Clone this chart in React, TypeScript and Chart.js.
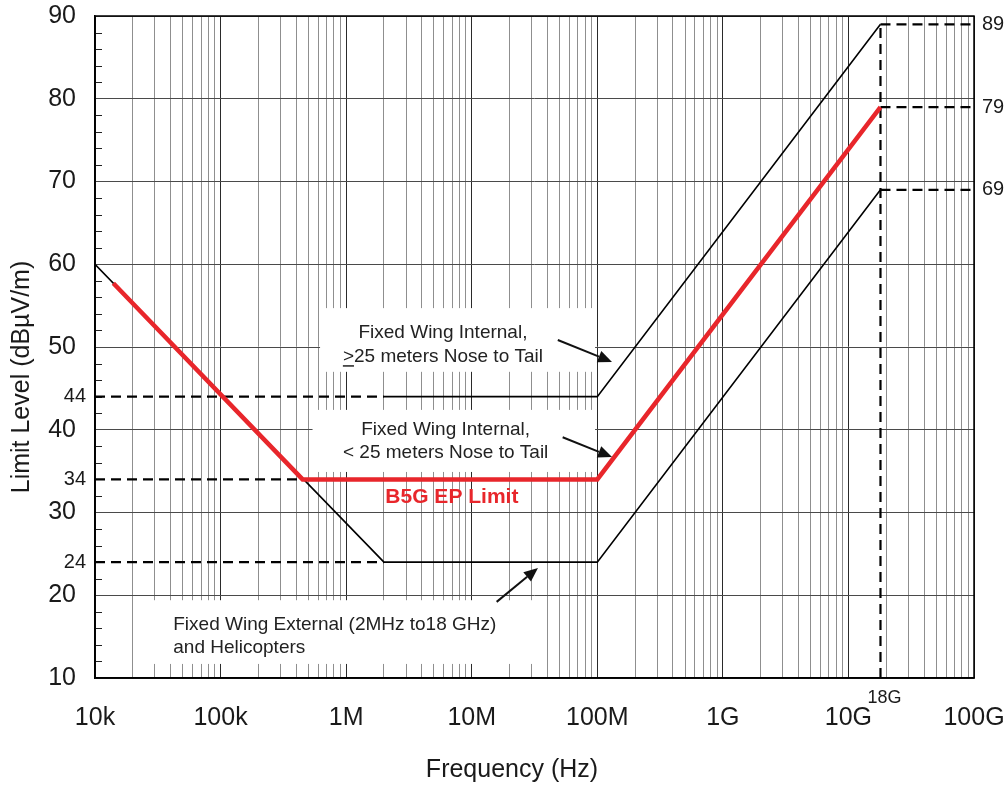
import React, { useEffect, useRef } from 'react';
import { Chart, registerables } from 'chart.js';

Chart.register(...registerables);

// ---- axis ticks ----
const xDecades = [1e4, 1e5, 1e6, 1e7, 1e8, 1e9, 1e10, 1e11];
const xTickLabels = ['10k', '100k', '1M', '10M', '100M', '1G', '10G', '100G'];
const yTickValues = [10, 20, 30, 40, 50, 60, 70, 80, 90];
const yMinorTicks = [12, 14, 16, 18, 22, 24, 26, 28, 32, 34, 36, 38, 42, 44, 46, 48, 52, 54, 56, 58, 62, 64, 66, 68, 72, 74, 76, 78, 82, 84, 86, 88];

// ---- limit curves (Hz, dBµV/m) ----
const lowerFreq = [1e4, 2e6, 1e8, 1.8e10];
const lowerLevel = [60, 24, 24, 69];
const upperFreq = [2e6, 1e8, 1.8e10];
const upperLevel = [44, 44, 89];
const b5gFreq = [1.4e4, 4.5e5, 1e8, 1.8e10];
const b5gLevel = [57.7, 34, 34, 79];

// ---- reference (dashed) lines ----
const leftRefLevels = [44, 34, 24];
const leftRefEndFreq = [2e6, 4.5e5, 2e6];
const rightRefLevels = [89, 79, 69];
const cornerFreq = 1.8e10;
const cornerLabel = '18G';

// ---- annotations (data coordinates) ----
const notes = [
  { lines: ['Fixed Wing Internal,', '>25 meters Nose to Tail'], align: 'center', x: 5.9e6, y: [51.7, 48.8], box: [6.2e5, 9.6e7, 54.7, 47.0], underline: true },
  { lines: ['Fixed Wing Internal,', '< 25 meters Nose to Tail'], align: 'center', x: 6.2e6, y: [40.0, 37.2], box: [5.4e5, 9.6e7, 42.4, 34.9], underline: false },
  { lines: ['Fixed Wing External (2MHz to18 GHz)', 'and Helicopters'], align: 'left', x: 4.2e4, y: [16.4, 13.6], box: [2.3e4, 3.8e7, 19.4, 11.7], underline: false },
];
const arrows = [
  { from: [4.85e7, 50.85], to: [1.31e8, 48.2] },
  { from: [5.3e7, 39.1], to: [1.31e8, 36.7] },
  { from: [1.58e7, 19.2], to: [3.37e7, 23.3] },
];
const b5gLabel = { text: 'B5G EP Limit', x: 6.95e6, y: 31.8 };
const xTitle = 'Frequency (Hz)';
const yTitle = 'Limit Level (dBµV/m)';

const FONT = "'Liberation Sans', Arial, sans-serif";
const RED = '#e8262b';

const pts = (xs: number[], ys: number[]) => xs.map((x, i) => ({ x, y: ys[i] }));

const isDecade = (v: number) => Math.abs(Math.log10(v) - Math.round(Math.log10(v))) < 1e-9;

const overlayPlugin = {
  id: 'overlay',
  beforeDatasetsDraw(chart: any) {
    const { ctx, chartArea: a, scales } = chart;
    const xs = scales.x, ys = scales.y;
    ctx.save();
    ctx.fillStyle = '#ffffff';
    for (const n of notes) {
      const x0 = xs.getPixelForValue(n.box[0]);
      const x1 = xs.getPixelForValue(n.box[1]);
      const y0 = ys.getPixelForValue(n.box[2]);
      const y1 = ys.getPixelForValue(n.box[3]);
      ctx.fillRect(x0, y0, x1 - x0, y1 - y0);
    }
    ctx.strokeStyle = '#222';
    ctx.lineWidth = 1;
    for (const v of yMinorTicks) {
      const py = Math.round(ys.getPixelForValue(v)) + 0.5;
      ctx.beginPath();
      ctx.moveTo(a.left, py);
      ctx.lineTo(a.left + 7, py);
      ctx.stroke();
    }
    ctx.strokeStyle = '#000';
    ctx.lineWidth = 1.5;
    ctx.strokeRect(a.left, a.top, a.right - a.left, a.bottom - a.top);
    ctx.restore();
  },
  afterDatasetsDraw(chart: any) {
    const { ctx, scales } = chart;
    const xs = scales.x, ys = scales.y;
    ctx.save();
    ctx.fillStyle = '#222';
    ctx.font = `19px ${FONT}`;
    ctx.textBaseline = 'middle';
    for (const n of notes) {
      const px = xs.getPixelForValue(n.x);
      ctx.textAlign = n.align as CanvasTextAlign;
      n.lines.forEach((line, i) => {
        const py = ys.getPixelForValue(n.y[i]);
        ctx.fillText(line, px, py);
        if (n.underline && i === 1) {
          const w = ctx.measureText(line).width;
          const cw = ctx.measureText(line[0]).width;
          const sx = n.align === 'center' ? px - w / 2 : px;
          ctx.strokeStyle = '#222';
          ctx.lineWidth = 1.5;
          ctx.beginPath();
          ctx.moveTo(sx, py + 9);
          ctx.lineTo(sx + cw, py + 9);
          ctx.stroke();
        }
      });
    }
    ctx.strokeStyle = '#111';
    ctx.fillStyle = '#111';
    ctx.lineWidth = 2;
    for (const ar of arrows) {
      const x0 = xs.getPixelForValue(ar.from[0]), y0 = ys.getPixelForValue(ar.from[1]);
      const x1 = xs.getPixelForValue(ar.to[0]), y1 = ys.getPixelForValue(ar.to[1]);
      const ang = Math.atan2(y1 - y0, x1 - x0);
      const hl = 14, hw = 6;
      const bx = x1 - hl * Math.cos(ang), by = y1 - hl * Math.sin(ang);
      ctx.beginPath();
      ctx.moveTo(x0, y0);
      ctx.lineTo(bx, by);
      ctx.stroke();
      ctx.beginPath();
      ctx.moveTo(x1, y1);
      ctx.lineTo(bx + hw * Math.sin(ang), by - hw * Math.cos(ang));
      ctx.lineTo(bx - hw * Math.sin(ang), by + hw * Math.cos(ang));
      ctx.closePath();
      ctx.fill();
    }
    ctx.fillStyle = RED;
    ctx.font = `bold 21px ${FONT}`;
    ctx.textAlign = 'center';
    ctx.fillText(b5gLabel.text, xs.getPixelForValue(b5gLabel.x), ys.getPixelForValue(b5gLabel.y));
    ctx.restore();
  },
  afterDraw(chart: any) {
    const { ctx, chartArea: a, scales } = chart;
    const xs = scales.x, ys = scales.y;
    ctx.save();
    ctx.fillStyle = '#1a1a1a';
    ctx.textBaseline = 'middle';
    ctx.font = `20px ${FONT}`;
    ctx.textAlign = 'right';
    for (const v of leftRefLevels) ctx.fillText(String(v), a.left - 9, ys.getPixelForValue(v));
    ctx.textAlign = 'left';
    for (const v of rightRefLevels) ctx.fillText(String(v), a.right + 8, ys.getPixelForValue(v));
    ctx.font = `18px ${FONT}`;
    ctx.textAlign = 'center';
    ctx.fillText(cornerLabel, xs.getPixelForValue(cornerFreq) + 4, a.bottom + 20);
    ctx.font = `25px ${FONT}`;
    ctx.fillText(xTitle, 512, 770);
    ctx.translate(22, 377);
    ctx.rotate(-Math.PI / 2);
    ctx.fillText(yTitle, 0, 0);
    ctx.restore();
  },
};

export default function App() {
  const ref = useRef<HTMLCanvasElement | null>(null);
  useEffect(() => {
    if (!ref.current) return;
    const dashed = (data: any[]) => ({
      data,
      borderColor: '#000',
      borderWidth: 2.2,
      borderDash: [10, 6],
      pointRadius: 0,
      tension: 0,
      fill: false,
    });
    const datasets: any[] = [
      { data: pts(b5gFreq, b5gLevel), borderColor: RED, borderWidth: 4.5, pointRadius: 0, tension: 0, fill: false },
      { data: pts(upperFreq, upperLevel), borderColor: '#000', borderWidth: 1.6, pointRadius: 0, tension: 0, fill: false },
      { data: pts(lowerFreq, lowerLevel), borderColor: '#000', borderWidth: 1.6, pointRadius: 0, tension: 0, fill: false },
      ...leftRefLevels.map((lv, i) => dashed([{ x: xDecades[0], y: lv }, { x: leftRefEndFreq[i], y: lv }])),
      ...rightRefLevels.map((lv) => dashed([{ x: cornerFreq, y: lv }, { x: xDecades[xDecades.length - 1], y: lv }])),
      dashed([{ x: cornerFreq, y: yTickValues[0] }, { x: cornerFreq, y: rightRefLevels[0] }]),
    ];
    const chart = new Chart(ref.current, {
      type: 'line',
      data: { datasets },
      plugins: [overlayPlugin],
      options: {
        animation: false,
        responsive: false,
        devicePixelRatio: 1,
        layout: { padding: { top: 16, right: 32, left: 0, bottom: 0 } },
        plugins: { legend: { display: false }, tooltip: { enabled: false } },
        scales: {
          x: {
            type: 'logarithmic',
            min: xDecades[0],
            max: xDecades[xDecades.length - 1],
            afterBuildTicks: (scale: any) => {
              const t: any[] = [];
              for (let i = 0; i < xDecades.length - 1; i++) {
                for (let m = 1; m <= 9; m++) t.push({ value: xDecades[i] * m });
              }
              t.push({ value: xDecades[xDecades.length - 1] });
              scale.ticks = t;
            },
            afterFit: (scale: any) => {
              scale.height = 108;
              scale.paddingLeft = 0;
              scale.paddingRight = 0;
              scale.paddingTop = 0;
              scale.paddingBottom = 0;
            },
            ticks: {
              autoSkip: false,
              maxRotation: 0,
              padding: 25,
              color: '#1a1a1a',
              font: { size: 25, family: FONT },
              callback: (v: any) => {
                const idx = xDecades.findIndex((d) => Math.abs(d - Number(v)) / d < 1e-9);
                return idx >= 0 ? xTickLabels[idx] : '';
              },
            },
            grid: {
              drawTicks: false,
              color: (c: any) => (c.tick && isDecade(c.tick.value) ? '#2a2a2a' : '#8f8f8f'),
              lineWidth: 1,
            },
            border: { display: true, color: '#000', width: 1.5 },
          },
          y: {
            type: 'linear',
            min: yTickValues[0],
            max: yTickValues[yTickValues.length - 1],
            afterBuildTicks: (scale: any) => { scale.ticks = yTickValues.map((value) => ({ value })); },
            afterFit: (scale: any) => {
              scale.width = 95;
              scale.paddingLeft = 0;
              scale.paddingRight = 0;
              scale.paddingTop = 0;
              scale.paddingBottom = 0;
            },
            ticks: {
              padding: 19,
              color: '#1a1a1a',
              font: { size: 25, family: FONT },
            },
            grid: { drawTicks: false, color: '#4a4a4a', lineWidth: 1 },
            border: { display: true, color: '#000', width: 1.5 },
          },
        },
      } as any,
    });
    return () => chart.destroy();
  }, []);
  return (
    <div style={{ position: 'fixed', left: 0, top: 0, width: 1006, height: 786, background: '#fff' }}>
      <canvas ref={ref} width={1006} height={786} style={{ display: 'block' }} />
    </div>
  );
}
